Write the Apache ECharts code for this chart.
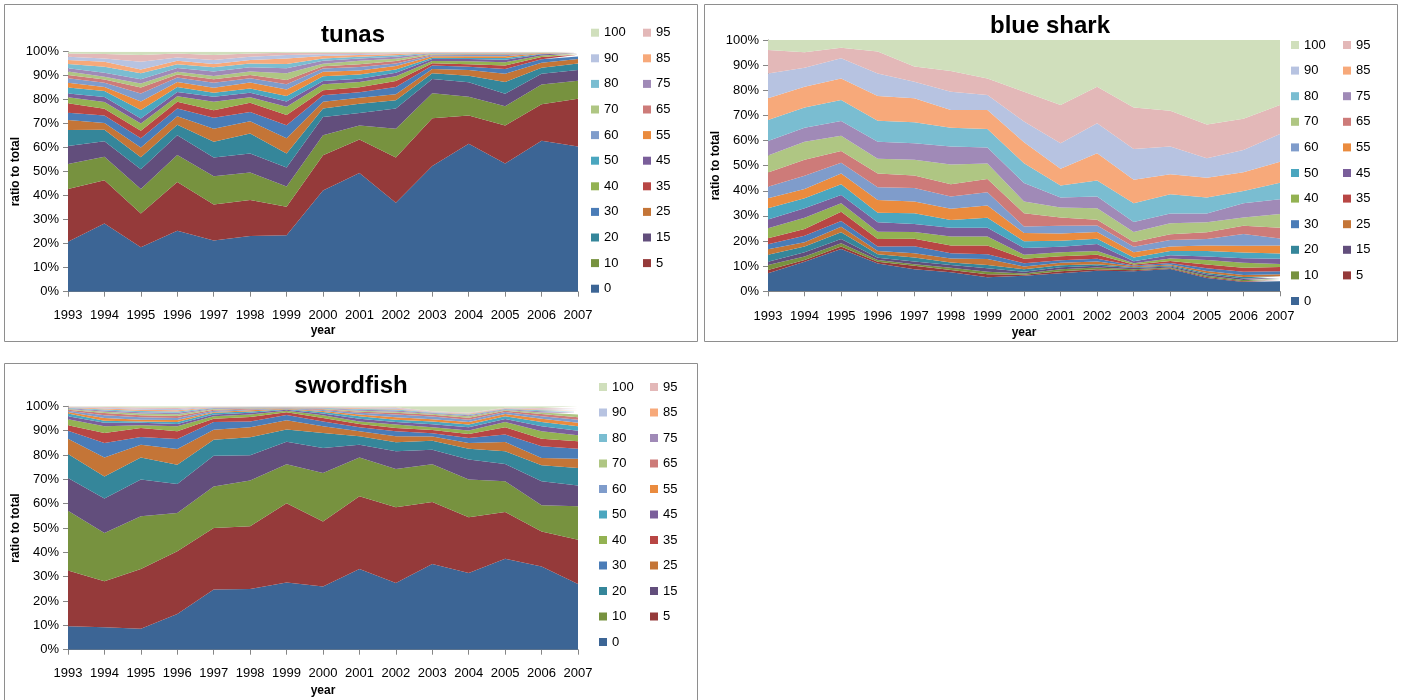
<!DOCTYPE html>
<html>
<head>
<meta charset="utf-8">
<script src="https://cdn.jsdelivr.net/npm/echarts@6/dist/echarts.min.js"></script>
<style>
  html, body { margin: 0; padding: 0; background: #ffffff; }
  #chart { width: 1403px; height: 700px; }
</style>
</head>
<body>
<div id="chart"></div>
<script>
// Years on the horizontal axis and the size bins that make up each stack
const years = ['1993', '1994', '1995', '1996', '1997', '1998', '1999', '2000',
               '2001', '2002', '2003', '2004', '2005', '2006', '2007'];
const bins = ['0', '5', '10', '15', '20', '25', '30', '35', '40', '45', '50',
              '55', '60', '65', '70', '75', '80', '85', '90', '95', '100'];
const yTicks = [0, 10, 20, 30, 40, 50, 60, 70, 80, 90, 100];

// ---- tunas: share of each bin per year ----
const tuna0   = [20.8, 28.5, 18.5, 25.4, 21.4, 23.2, 23.5, 42.2, 49.6, 37.1, 52.5, 61.8, 53.5, 63.2, 60.7];
const tuna5   = [22.0, 18.0, 14.1, 20.4, 15.0, 15.0, 11.9, 14.7, 13.9, 18.9, 20.0, 11.8, 15.9, 15.3, 19.9];
const tuna10  = [10.4, 9.8, 10.2, 11.2, 11.8, 11.5, 8.4, 8.4, 5.9, 12.0, 10.4, 7.9, 8.0, 8.3, 7.6];
const tuna15  = [7.5, 6.5, 8.2, 8.3, 7.8, 7.9, 8.0, 7.6, 5.2, 8.4, 6.0, 6.0, 5.2, 4.5, 4.4];
const tuna20  = [6.7, 4.8, 5.0, 4.3, 6.5, 8.4, 5.8, 3.5, 3.9, 3.5, 2.4, 2.8, 4.9, 2.5, 2.8];
const tuna25  = [4.1, 2.8, 4.1, 3.6, 5.5, 5.1, 6.3, 2.8, 2.5, 2.5, 1.8, 2.3, 3.5, 2.1, 1.8];
const tuna30  = [3.1, 3.2, 3.8, 3.2, 4.6, 3.9, 5.5, 2.7, 2.3, 3.0, 1.4, 1.4, 2.0, 1.4, 1.1];
const tuna35  = [3.9, 2.8, 3.2, 2.8, 3.1, 3.8, 4.2, 2.1, 2.1, 2.5, 1.0, 1.1, 1.4, 1.0, 0.7];
const tuna40  = [2.5, 2.8, 3.0, 2.3, 3.5, 2.3, 3.5, 2.5, 2.1, 2.0, 0.9, 1.2, 1.4, 0.6, 0.3];
const tuna45  = [1.6, 2.1, 2.1, 1.8, 2.1, 1.9, 2.1, 1.4, 1.4, 1.4, 0.9, 0.9, 1.0, 0.5, 0.3];
const tuna50  = [2.5, 2.5, 3.5, 2.1, 1.7, 1.8, 2.3, 2.0, 1.8, 1.4, 0.5, 0.5, 0.8, 0.2, 0.1];
const tuna55  = [2.0, 1.7, 3.5, 2.1, 2.1, 2.5, 2.8, 1.8, 1.7, 1.4, 0.6, 0.7, 0.7, 0.2, 0.1];
const tuna60  = [1.8, 1.7, 3.4, 1.8, 2.1, 1.7, 2.1, 1.4, 1.4, 1.1, 0.4, 0.5, 0.5, 0.1, 0.1];
const tuna65  = [1.4, 1.4, 2.5, 1.3, 1.4, 1.4, 1.8, 0.9, 1.2, 1.0, 0.3, 0.3, 0.3, 0.1, 0.1];
const tuna70  = [1.4, 1.1, 1.7, 1.1, 1.4, 1.4, 2.8, 1.1, 1.4, 1.0, 0.3, 0.3, 0.3, 0.1, 0.0];
const tuna75  = [1.4, 1.7, 1.7, 1.6, 1.8, 1.8, 2.1, 1.2, 1.0, 0.8, 0.2, 0.2, 0.2, 0.1, 0.0];
const tuna80  = [1.8, 2.5, 2.5, 1.6, 1.8, 1.6, 1.8, 1.0, 0.7, 0.6, 0.2, 0.1, 0.1, 0.0, 0.0];
const tuna85  = [1.6, 2.1, 1.6, 1.4, 1.4, 1.4, 2.3, 1.0, 0.7, 0.5, 0.2, 0.2, 0.2, 0.0, 0.0];
const tuna90  = [1.4, 1.4, 3.2, 1.4, 1.6, 1.4, 1.4, 0.7, 0.4, 0.3, 0.1, 0.1, 0.1, 0.0, 0.0];
const tuna95  = [1.4, 1.8, 2.8, 1.7, 2.1, 1.4, 1.0, 0.7, 0.6, 0.4, 0.1, 0.1, 0.1, 0.0, 0.0];
const tuna100 = [0.7, 1.0, 1.4, 0.7, 1.4, 0.7, 0.4, 0.4, 0.4, 0.3, 0.1, 0.1, 0.1, 0.3, 0.3];

// ---- blue shark ----
const shark0   = [7.2, 11.8, 16.8, 11.1, 8.8, 7.6, 5.6, 6.2, 7.2, 8.2, 8.0, 8.9, 5.3, 3.7, 4.0];
const shark5   = [1.3, 0.7, 1.0, 0.7, 1.4, 0.9, 1.2, 0.4, 0.8, 0.6, 0.4, 0.3, 0.4, 0.3, 0.4];
const shark10  = [2.0, 1.3, 1.3, 0.7, 0.6, 0.9, 1.0, 0.5, 0.8, 0.7, 0.4, 0.3, 0.5, 0.5, 0.4];
const shark15  = [1.3, 1.7, 1.7, 0.9, 1.1, 1.1, 1.4, 0.7, 0.8, 0.7, 0.5, 0.4, 0.6, 0.6, 0.5];
const shark20  = [2.7, 2.3, 2.7, 1.3, 1.6, 1.0, 1.3, 1.0, 0.8, 0.6, 0.3, 0.4, 0.5, 0.6, 0.7];
const shark25  = [2.2, 1.7, 2.2, 1.3, 1.7, 1.6, 2.4, 1.1, 1.0, 1.1, 0.4, 0.4, 0.8, 0.8, 0.8];
const shark30  = [2.0, 2.6, 2.3, 1.8, 2.7, 2.0, 1.8, 1.3, 1.0, 1.1, 0.3, 0.6, 1.1, 1.3, 1.2];
const shark35  = [2.4, 2.7, 3.7, 3.0, 3.0, 3.1, 3.5, 1.8, 1.6, 1.6, 0.4, 0.8, 1.5, 1.6, 1.7];
const shark40  = [4.0, 4.5, 3.3, 2.9, 2.7, 3.6, 3.6, 1.6, 1.6, 1.5, 0.5, 1.0, 1.8, 2.0, 1.2];
const shark45  = [3.5, 3.7, 3.3, 3.8, 3.2, 3.5, 3.5, 2.6, 2.1, 2.7, 0.8, 1.2, 1.3, 1.8, 2.1];
const shark50  = [4.4, 4.0, 4.3, 3.8, 4.3, 3.1, 4.0, 2.7, 2.4, 2.1, 1.5, 1.7, 2.2, 2.3, 2.0];
const shark55  = [4.0, 3.7, 4.3, 5.0, 4.7, 4.4, 4.8, 3.3, 2.9, 2.7, 2.1, 1.8, 2.2, 2.6, 3.2];
const shark60  = [4.6, 5.3, 4.3, 5.1, 5.3, 4.9, 5.3, 2.6, 3.1, 2.6, 2.1, 2.6, 2.6, 4.7, 2.8];
const shark65  = [5.7, 6.3, 4.6, 5.5, 5.0, 4.9, 5.3, 5.3, 3.3, 2.3, 1.9, 2.3, 2.7, 3.3, 4.3];
const shark70  = [6.7, 7.2, 6.1, 5.8, 6.3, 7.9, 6.2, 4.7, 4.0, 4.6, 4.0, 4.4, 4.0, 3.3, 5.5];
const shark75  = [5.8, 5.6, 5.9, 6.8, 6.6, 7.1, 6.3, 7.3, 4.0, 4.7, 4.0, 3.9, 3.5, 5.7, 5.8];
const shark80  = [8.4, 8.0, 8.3, 8.4, 8.3, 7.5, 7.4, 7.9, 4.7, 6.3, 7.5, 7.6, 6.3, 4.9, 6.6];
const shark85  = [8.6, 8.3, 8.6, 9.8, 9.6, 7.0, 7.5, 8.4, 6.7, 10.9, 9.3, 8.0, 7.9, 7.4, 8.4];
const shark90  = [9.9, 7.6, 8.0, 9.0, 6.6, 7.3, 6.0, 8.2, 10.2, 11.9, 12.3, 11.0, 7.7, 8.9, 11.0];
const shark95  = [9.3, 6.1, 4.2, 8.7, 6.0, 8.3, 6.6, 11.9, 15.2, 14.6, 16.5, 14.2, 13.5, 12.4, 11.5];
const shark100 = [4.0, 4.9, 3.1, 4.6, 10.6, 12.3, 15.3, 20.6, 25.9, 18.6, 26.9, 28.2, 33.6, 31.4, 25.9];

// ---- swordfish ----
const sword0   = [9.6, 9.2, 8.6, 14.7, 24.7, 24.9, 27.7, 26.0, 33.2, 27.4, 35.2, 31.5, 37.4, 34.2, 27.0];
const sword5   = [22.9, 18.9, 24.6, 25.7, 25.3, 25.8, 32.6, 26.7, 29.8, 31.1, 25.5, 22.9, 19.2, 14.4, 18.2];
const sword10  = [24.6, 19.8, 21.6, 15.8, 17.1, 18.8, 16.0, 19.9, 16.0, 15.7, 15.6, 15.5, 12.6, 10.7, 13.7];
const sword15  = [13.4, 14.2, 15.1, 11.9, 12.6, 10.4, 9.3, 10.3, 5.2, 7.3, 5.9, 8.2, 7.1, 9.9, 8.6];
const sword20  = [9.9, 9.1, 9.1, 7.9, 6.6, 7.4, 5.1, 6.1, 3.5, 3.7, 3.7, 4.5, 5.2, 6.6, 7.2];
const sword25  = [6.3, 7.8, 5.2, 6.5, 4.1, 4.1, 3.8, 2.8, 2.0, 2.5, 1.8, 2.3, 3.8, 3.0, 3.8];
const sword30  = [3.3, 5.9, 3.2, 4.1, 3.2, 2.4, 2.1, 2.0, 1.7, 2.0, 1.3, 2.1, 3.1, 4.8, 4.1];
const sword35  = [2.2, 4.1, 3.7, 3.1, 1.3, 1.8, 1.1, 1.4, 1.3, 1.4, 1.4, 1.6, 3.0, 3.1, 3.0];
const sword40  = [2.5, 2.8, 1.1, 2.1, 1.0, 1.0, 0.7, 1.1, 1.1, 1.4, 1.1, 1.5, 2.2, 3.0, 2.5];
const sword45  = [1.2, 1.4, 1.0, 0.9, 0.7, 0.7, 0.4, 0.7, 1.1, 1.1, 1.2, 1.3, 1.2, 2.1, 1.9];
const sword50  = [1.1, 0.9, 0.6, 0.9, 0.7, 0.6, 0.2, 0.7, 1.0, 0.9, 1.1, 1.1, 1.1, 1.8, 1.8];
const sword55  = [0.7, 1.1, 0.7, 0.8, 0.4, 0.5, 0.2, 0.4, 0.7, 1.0, 1.0, 1.1, 0.9, 1.3, 1.4];
const sword60  = [0.5, 1.1, 1.0, 0.8, 0.5, 0.3, 0.2, 0.4, 0.7, 1.1, 1.1, 0.9, 0.9, 1.0, 1.3];
const sword65  = [0.4, 0.9, 0.8, 0.8, 0.4, 0.3, 0.1, 0.3, 0.5, 0.7, 0.7, 0.8, 0.5, 0.9, 1.0];
const sword70  = [0.3, 0.6, 0.7, 0.7, 0.3, 0.2, 0.1, 0.2, 0.4, 0.5, 0.4, 0.6, 0.3, 0.7, 1.1];
const sword75  = [0.3, 0.5, 0.6, 0.6, 0.3, 0.2, 0.1, 0.2, 0.4, 0.5, 0.3, 0.4, 0.3, 0.5, 0.7];
const sword80  = [0.2, 0.4, 0.5, 0.6, 0.2, 0.2, 0.1, 0.2, 0.3, 0.4, 0.2, 0.3, 0.2, 0.4, 0.6];
const sword85  = [0.2, 0.4, 0.5, 0.5, 0.2, 0.1, 0.1, 0.2, 0.3, 0.3, 0.2, 0.3, 0.2, 0.3, 0.5];
const sword90  = [0.2, 0.3, 0.4, 0.5, 0.2, 0.1, 0.1, 0.1, 0.2, 0.3, 0.2, 0.2, 0.1, 0.3, 0.5];
const sword95  = [0.1, 0.3, 0.5, 0.5, 0.1, 0.1, 0.1, 0.1, 0.2, 0.3, 0.2, 0.2, 0.1, 0.3, 0.4];
const sword100 = [0.1, 0.3, 0.5, 0.6, 0.1, 0.1, 0.1, 0.2, 0.4, 0.4, 2.0, 2.7, 0.6, 0.7, 0.7];

const tunaBins  = [tuna0, tuna5, tuna10, tuna15, tuna20, tuna25, tuna30, tuna35, tuna40, tuna45, tuna50,
                   tuna55, tuna60, tuna65, tuna70, tuna75, tuna80, tuna85, tuna90, tuna95, tuna100];
const sharkBins = [shark0, shark5, shark10, shark15, shark20, shark25, shark30, shark35, shark40, shark45, shark50,
                   shark55, shark60, shark65, shark70, shark75, shark80, shark85, shark90, shark95, shark100];
const swordBins = [sword0, sword5, sword10, sword15, sword20, sword25, sword30, sword35, sword40, sword45, sword50,
                   sword55, sword60, sword65, sword70, sword75, sword80, sword85, sword90, sword95, sword100];

// Office-style palette, one colour per bin
const binColors = ['#3c6595', '#953a3a', '#77923f', '#624e7c', '#35869a', '#c47537', '#4a7cb7',
                   '#b84644', '#93b252', '#7a5e9a', '#4aa6bf', '#ea8b3e', '#7f9ccb', '#cd7b79',
                   '#afc683', '#a08ab7', '#7abdd1', '#f7a97a', '#b7c3e1', '#e3b8b8', '#d0dfbc'];

const FONT = "'Liberation Sans', Arial, sans-serif";
const AXIS_GRAY = '#868686';

// Panel layout (pixels)
const panels = [
  { key: 'tunas', title: 'tunas', values: tunaBins,
    box: [4.5, 4.5, 693, 337], titleAt: [353, 35],
    grid: { left: 68, top: 51.7, width: 510, height: 240 },
    labelMargin: 17, nameGap: 33,
    legend: { colA: 591, colB: 643, firstRow: 32.7, step: 25.6 } },
  { key: 'shark', title: 'blue shark', values: sharkBins,
    box: [704.5, 4.5, 693, 337], titleAt: [1050, 26],
    grid: { left: 768, top: 40, width: 512, height: 251.3 },
    labelMargin: 19, nameGap: 35,
    legend: { colA: 1291, colB: 1343, firstRow: 45, step: 25.6 } },
  { key: 'sword', title: 'swordfish', values: swordBins,
    box: [4.5, 363.5, 693, 350], titleAt: [351, 386],
    grid: { left: 68, top: 406.3, width: 510, height: 243.4 },
    labelMargin: 17, nameGap: 35,
    legend: { colA: 599, colB: 650, firstRow: 387, step: 25.5 } }
];

// Each year is shown as a ratio to that year's total
function shareOfTotal(list) {
  const totals = years.map((_, i) => list.reduce((s, arr) => s + arr[i], 0));
  return list.map(arr => arr.map((v, i) => v / totals[i] * 100));
}

const grids = [], xAxes = [], yAxes = [], series = [], legends = [], graphics = [];
const leftColumn = bins.filter((_, k) => k % 2 === 0).reverse();   // 100, 90, ... 0
const rightColumn = bins.filter((_, k) => k % 2 === 1).reverse();  // 95, 85, ... 5

panels.forEach((p, gi) => {
  grids.push(Object.assign({ containLabel: false, outerBoundsMode: 'none' }, p.grid));

  xAxes.push({
    type: 'category', gridIndex: gi, data: years, boundaryGap: false,
    name: 'year', nameLocation: 'middle', nameGap: p.nameGap,
    nameTextStyle: { fontFamily: FONT, fontSize: 12, fontWeight: 'bold', color: '#000' },
    axisLine: { show: true, lineStyle: { color: AXIS_GRAY, width: 1 } },
    axisTick: { show: true, length: 5, inside: false, lineStyle: { color: AXIS_GRAY } },
    axisLabel: { fontFamily: FONT, fontSize: 13, color: '#000', margin: p.labelMargin, interval: 0 },
    splitLine: { show: false }
  });

  yAxes.push({
    type: 'value', gridIndex: gi, min: yTicks[0], max: yTicks[yTicks.length - 1], interval: 10,
    name: 'ratio to total', nameLocation: 'middle', nameGap: 46, nameRotate: 90,
    nameTextStyle: { fontFamily: FONT, fontSize: 12, fontWeight: 'bold', color: '#000' },
    axisLine: { show: true, lineStyle: { color: AXIS_GRAY, width: 1 } },
    axisTick: { show: true, length: 5, inside: false, lineStyle: { color: AXIS_GRAY } },
    axisLabel: { fontFamily: FONT, fontSize: 13, color: '#000', margin: 9, formatter: '{value}%' },
    splitLine: { show: false }
  });

  const shares = shareOfTotal(p.values);
  bins.forEach((b, k) => {
    series.push({
      type: 'line', name: b, xAxisIndex: gi, yAxisIndex: gi, stack: p.key,
      data: shares[k], symbol: 'none', showSymbol: false, smooth: false,
      lineStyle: { width: 0, color: binColors[k] },
      itemStyle: { color: binColors[k] },
      areaStyle: { color: binColors[k], opacity: 1 },
      emphasis: { disabled: true }, silent: true, z: 2
    });
  });

  const L = p.legend;
  const legendBase = {
    orient: 'vertical', icon: 'rect', itemWidth: 8, itemHeight: 8, padding: 0,
    itemGap: L.step - 14, selectedMode: false, top: L.firstRow - 7,
    textStyle: { fontFamily: FONT, fontSize: 13, color: '#000', lineHeight: 14 }
  };
  legends.push(Object.assign({}, legendBase, { left: L.colA, data: leftColumn }));
  legends.push(Object.assign({}, legendBase, { left: L.colB, data: rightColumn }));

  graphics.push({
    type: 'rect', silent: true, z: -1,
    shape: { x: p.box[0], y: p.box[1], width: p.box[2], height: p.box[3] },
    style: { fill: '#ffffff', stroke: '#8e8e8e', lineWidth: 1 }
  });
  graphics.push({
    type: 'text', silent: true,
    style: {
      text: p.title, x: p.titleAt[0], y: p.titleAt[1],
      textAlign: 'center', textVerticalAlign: 'middle',
      font: "bold 24px 'Liberation Sans', Arial, sans-serif", fill: '#000'
    }
  });
});

const chart = echarts.init(document.getElementById('chart'), null, { renderer: 'canvas' });
chart.setOption({
  animation: false,
  backgroundColor: '#ffffff',
  grid: grids,
  xAxis: xAxes,
  yAxis: yAxes,
  legend: legends,
  graphic: { elements: graphics },
  series: series
});
</script>
</body>
</html>
